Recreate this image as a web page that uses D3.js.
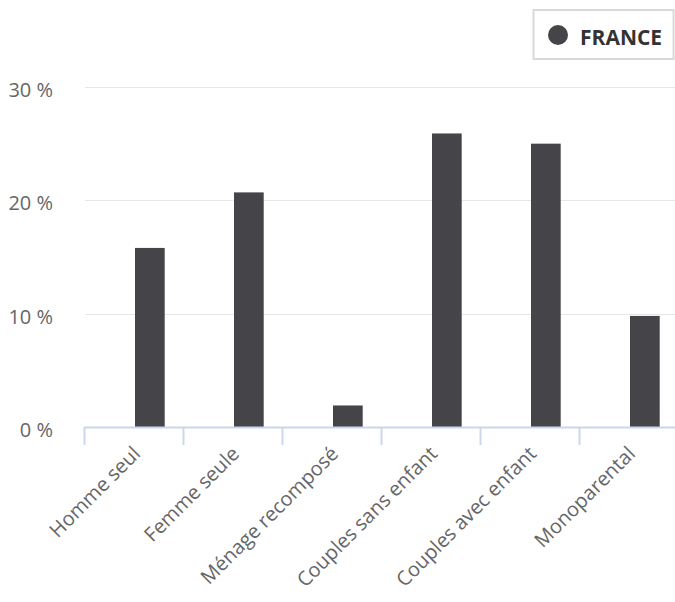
<!DOCTYPE html>
<html>
<head>
<meta charset="utf-8">
<script src="https://cdn.jsdelivr.net/npm/d3@7"></script>
<style>
  body { margin: 0; background: #fff; }
  svg { display: block; font-family: "Open Sans", sans-serif; }
</style>
</head>
<body>
<div id="chart"></div>
<script>
// data
var categories = ["Homme seul", "Femme seule", "Ménage recomposé", "Couples sans enfant", "Couples avec enfant", "Monoparental"];
var franceValues = [15.8, 20.7, 1.9, 25.9, 25.0, 9.8];
var yTicks = [0, 10, 20, 30];
var seriesName = "FRANCE";

var svgwidth = 675, svgheight = 602;
var margin = {top: 87, right: -3, bottom: 175, left: 84};
var width = svgwidth - margin.left - margin.right,
    height = svgheight - margin.top - margin.bottom;
var barColor = "#454449";

var svg = d3.select('#chart')
  .append('svg')
    .attr('width', svgwidth)
    .attr('height', svgheight);

var x = d3.scaleBand()
  .domain(categories)
  .range([0, width]);

var y = d3.scaleLinear()
  .domain([0, 30])
  .range([height, 0]);

var focus = svg.append('g')
  .attr('transform', 'translate(' + margin.left + ',' + margin.top + ')');

// grid lines
focus.append('g')
  .selectAll('line')
  .data(yTicks)
  .enter().append('line')
    .attr('x1', 1)
    .attr('x2', width)
    .attr('y1', function(d) { return Math.round(y(d)) + 0.5; })
    .attr('y2', function(d) { return Math.round(y(d)) + 0.5; })
    .attr('stroke', '#e6e6e6')
    .attr('stroke-width', 1);

// y labels
focus.append('g')
  .selectAll('text')
  .data(yTicks)
  .enter().append('text')
    .attr('x', -31)
    .attr('y', function(d) { return y(d) + 10; })
    .attr('text-anchor', 'end')
    .attr('font-family', 'Open Sans')
    .attr('font-size', 20)
    .attr('fill', '#666')
    .text(function(d) { return d + ' %'; });

// bars (France series sits in the right half of each category)
focus.append('g')
  .selectAll('rect')
  .data(franceValues)
  .enter().append('rect')
    .attr('x', function(d, i) { return x(categories[i]) + x.bandwidth() / 2 + 1.5; })
    .attr('y', function(d) { return y(d); })
    .attr('width', x.bandwidth() * 0.3)
    .attr('height', function(d) { return height - y(d); })
    .attr('fill', barColor);

// x axis
var xAxis = d3.axisBottom(x).tickSize(0).tickFormat('');
var gX = focus.append('g')
  .attr('transform', 'translate(0,' + height + ')')
  .call(xAxis);
gX.select('.domain').remove();
gX.append('line')
  .attr('x1', 0).attr('x2', width)
  .attr('y1', 0.5).attr('y2', 0.5)
  .attr('stroke', '#ccd6eb').attr('stroke-width', 2);

gX.selectAll('.catTick')
  .data(categories)
  .enter().append('line')
    .attr('class', 'catTick')
    .attr('x1', function(d) { return x(d) + 0.5; })
    .attr('x2', function(d) { return x(d) + 0.5; })
    .attr('y1', 0)
    .attr('y2', 18)
    .attr('stroke', '#ccd6eb')
    .attr('stroke-width', 2);

gX.selectAll('.catLabel')
  .data(categories)
  .enter().append('text')
    .attr('class', 'catLabel')
    .attr('text-anchor', 'end')
    .attr('font-family', 'Open Sans')
    .attr('font-size', 20)
    .attr('fill', '#666')
    .style('text-rendering', 'geometricPrecision')
    .attr('transform', function(d) {
      return 'translate(' + (x(d) + x.bandwidth() / 2 + 8) + ',28) rotate(-45)';
    })
    .text(function(d) { return d; });

// legend
var legend = svg.append('g');
legend.append('rect')
  .attr('x', 533.5).attr('y', 10)
  .attr('width', 140).attr('height', 49)
  .attr('fill', '#fff')
  .attr('stroke', '#d9d9d9')
  .attr('stroke-width', 2);
legend.append('circle')
  .attr('cx', 558).attr('cy', 35)
  .attr('r', 10)
  .attr('fill', barColor);
legend.append('text')
  .attr('x', 580).attr('y', 45)
  .attr('font-family', 'Open Sans')
  .attr('font-size', 21)
  .attr('font-weight', 'bold')
  .attr('fill', '#333')
  .text(seriesName);
</script>
</body>
</html>
